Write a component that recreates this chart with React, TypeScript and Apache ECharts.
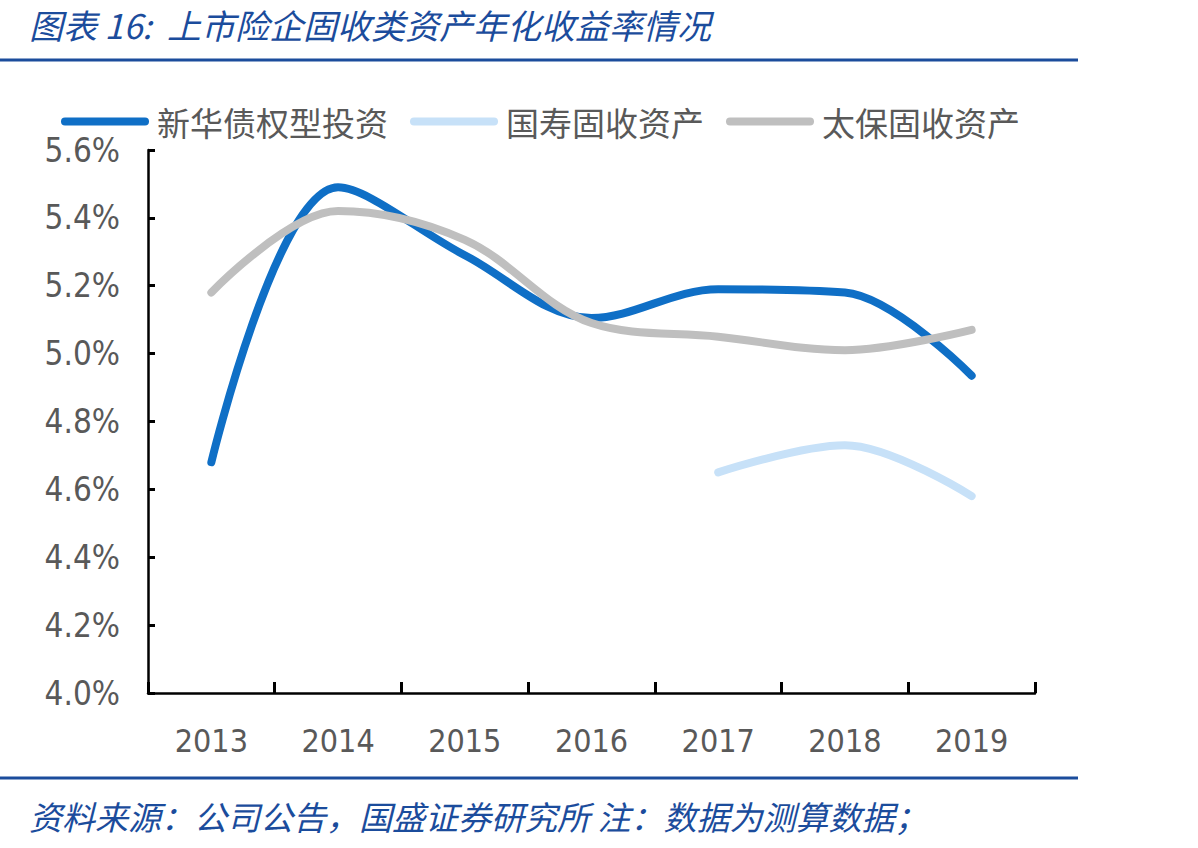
import React, { useEffect, useRef } from "react";
import * as echarts from "echarts";

const years = ["2013", "2014", "2015", "2016", "2017", "2018", "2019"];
const xinhua = [4.68, 5.49, 5.29, 5.105, 5.19, 5.18, 4.935];
const guoshou = [null, null, null, null, 4.65, 4.73, 4.58];
const taibao = [5.18, 5.42, 5.335, 5.09, 5.05, 5.01, 5.07];
const seriesNames = ["新华债权型投资", "国寿固收资产", "太保固收资产"];
const titleText = "图表 16:  上市险企固收类资产年化收益率情况";
const footerText = "资料来源：公司公告，国盛证券研究所 注：数据为测算数据；";

const pill = "path://M4,0 H84 A4,4 0 0 1 84,8 H4 A4,4 0 0 1 4,0 Z";
const numFont = "'DejaVu Sans Condensed', 'Liberation Sans', sans-serif";
const cjkFont = "'Noto Sans CJK SC', sans-serif";

export default function App() {
  const ref = useRef<HTMLDivElement>(null);
  useEffect(() => {
    document.body.style.margin = "0";
    if (!ref.current) return;
    const chart = echarts.init(ref.current, null, { renderer: "svg" });
    const mk = (name: string, data: any[], color: string) => ({
      name,
      type: "line",
      data,
      smooth: 0.35,
      showSymbol: false,
      symbol: "none",
      connectNulls: false,
      lineStyle: { width: 8, color, cap: "round" },
      itemStyle: { color },
    });
    chart.setOption({
      animation: false,
      backgroundColor: "#fff",
      title: [
        {
          text: titleText,
          left: 24,
          top: 2,
          textStyle: { fontFamily: cjkFont, fontStyle: "italic", fontWeight: "normal", fontSize: 34, color: "#1B4C9C" },
        },
        {
          text: footerText,
          left: 24,
          top: 794,
          textStyle: { fontFamily: cjkFont, fontStyle: "italic", fontWeight: "normal", fontSize: 33, color: "#1B4C9C" },
        },
      ],
      graphic: [
        { type: "line", shape: { x1: 0, y1: 60, x2: 1078, y2: 60 }, style: { stroke: "#1B4C9C", lineWidth: 3 } },
        { type: "line", shape: { x1: 0, y1: 778, x2: 1078, y2: 778 }, style: { stroke: "#1B4C9C", lineWidth: 3 } },
      ],
      legend: {
        left: 56,
        top: 100,
        icon: pill,
        itemWidth: 88,
        itemHeight: 8,
        itemGap: 22,
        data: seriesNames,
        textStyle: { fontFamily: cjkFont, fontSize: 33, color: "#595959", padding: [0, 0, 0, 3] },
      },
      grid: { left: 148, right: 163, top: 150, bottom: 155 },
      xAxis: {
        type: "category",
        data: years,
        boundaryGap: true,
        axisLine: { show: true, lineStyle: { color: "#000", width: 2.5 } },
        axisTick: { show: true, inside: true, length: 11, interval: 0, alignWithLabel: false, lineStyle: { color: "#000", width: 3 } },
        axisLabel: { margin: 32, fontFamily: numFont, fontSize: 32, color: "#595959" },
      },
      yAxis: {
        type: "value",
        min: 4.0,
        max: 5.6,
        interval: 0.2,
        splitLine: { show: false },
        axisLine: { show: true, lineStyle: { color: "#000", width: 2.5 } },
        axisTick: { show: true, inside: true, length: 7, lineStyle: { color: "#000", width: 3 } },
        axisLabel: {
          margin: 28,
          fontFamily: numFont,
          fontSize: 33,
          color: "#595959",
          formatter: (v: number) => v.toFixed(1) + "%",
        },
      },
      series: [
        mk(seriesNames[0], xinhua, "#0F6FC6"),
        mk(seriesNames[1], guoshou, "#C7E1F8"),
        mk(seriesNames[2], taibao, "#BFBFBF"),
      ],
    });
    return () => chart.dispose();
  }, []);
  return <div ref={ref} style={{ width: 1198, height: 848 }} />;
}
